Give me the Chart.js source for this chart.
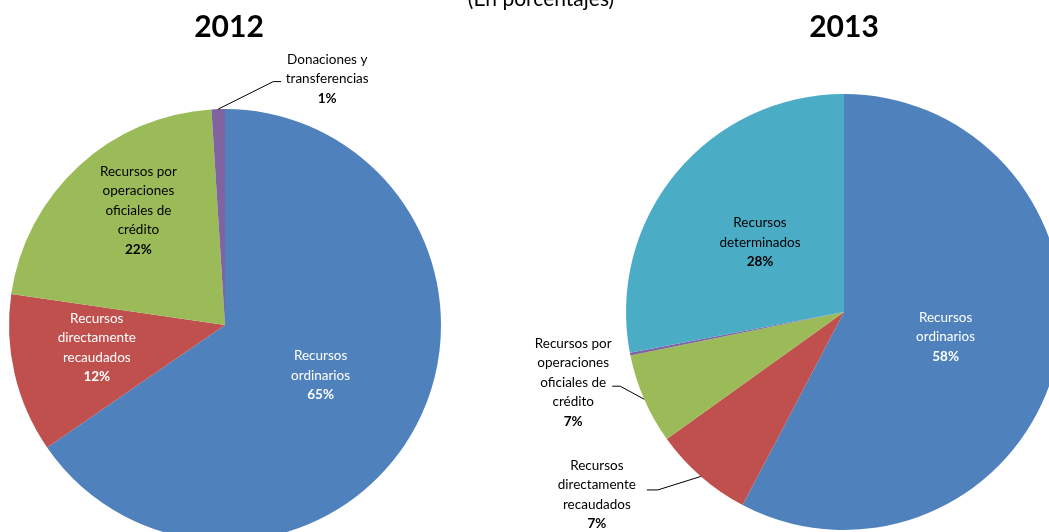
<!DOCTYPE html>
<html>
<head>
<meta charset="utf-8">
<script src="https://cdn.jsdelivr.net/npm/chart.js@4.4.1/dist/chart.umd.min.js"></script>
<style>
  html, body { margin: 0; padding: 0; background: #fff; overflow: hidden; }
  #wrap { position: relative; width: 1049px; height: 532px; }
  canvas { position: absolute; left: 0; top: 0; }
</style>
</head>
<body>
<div id="wrap">
  <canvas id="pie2012" width="1049" height="532"></canvas>
  <canvas id="pie2013" width="1049" height="532"></canvas>
</div>
<script>
// datos 2012
var categories2012 = ['Recursos ordinarios', 'Recursos directamente recaudados', 'Recursos por operaciones oficiales de crédito', 'Donaciones y transferencias']
var values2012 = [65.4, 11.9, 21.7, 1.0]
var lines2012 = [['Recursos', 'ordinarios'], ['Recursos', 'directamente', 'recaudados'], ['Recursos por', 'operaciones', 'oficiales de', 'crédito'], ['Donaciones y', 'transferencias']]

// datos 2013
var categories2013 = ['Recursos ordinarios', 'Recursos directamente recaudados', 'Recursos por operaciones oficiales de crédito', 'Donaciones y transferencias', 'Recursos determinados']
var values2013 = [57.7, 7.4, 6.7, 0.2, 28]
var lines2013 = [['Recursos', 'ordinarios'], ['Recursos', 'directamente', 'recaudados'], ['Recursos por', 'operaciones', 'oficiales de', 'crédito'], null, ['Recursos', 'determinados']]

var colors = ['#4F81BD', '#C0504D', '#9BBB59', '#8064A2', '#4BACC6']

// donde va cada etiqueta (fraccion del radio + ajuste)
var place2012 = [
  {f: 0.5, dx: 0, dy: 0, color: '#fff'},
  {f: 0.6, dx: -2, dy: -7, color: '#fff'},
  {f: 0.66, dx: 10, dy: -10, color: '#000'},
  {f: 1, dx: 109, dy: -30, color: '#000', leader: [[-54, 2.5], [-46, 2.5]]}
]
var place2013 = [
  {f: 0.48, dx: 0, dy: 0, color: '#fff'},
  {f: 1, dx: -104, dy: 18, color: '#000', leader: [[61, -4.5], [50, -4.5]]},
  {f: 1, dx: -71, dy: -17, color: '#000', leader: [[47, 4], [39, 4]]},
  null,
  {f: 0.5, dx: 0, dy: 0, color: '#000'}
]

var LH = 19.5

function makeLabels(cfg) {
  return {
    id: 'pieLabels',
    afterDatasetsDraw: function(chart) {
      var ctx = chart.ctx
      var meta = chart.getDatasetMeta(0)
      var values = chart.data.datasets[0].data
      ctx.save()
      meta.data.forEach(function(arc, i) {
        var p = cfg.place[i]
        if (!p) return
        var a = arc.getProps(['x', 'y', 'startAngle', 'endAngle', 'outerRadius'], true)
        var mid = (a.startAngle + a.endAngle) / 2
        var ex = a.x + Math.cos(mid) * a.outerRadius * p.f
        var ey = a.y + Math.sin(mid) * a.outerRadius * p.f
        var tx = ex + p.dx, ty = ey + p.dy
        if (p.leader) {
          ctx.beginPath()
          ctx.moveTo(ex, ey)
          p.leader.forEach(function(pt) { ctx.lineTo(tx + pt[0], ty + pt[1]) })
          ctx.strokeStyle = '#000'
          ctx.lineWidth = 1
          ctx.stroke()
        }
        var lines = cfg.lines[i]
        var n = lines.length + 1
        var y0 = ty - (n - 1) * LH / 2
        ctx.fillStyle = p.color
        ctx.textAlign = 'center'
        ctx.textBaseline = 'middle'
        ctx.font = '13.5px Lato'
        lines.forEach(function(t, k) { ctx.fillText(t, tx, y0 + k * LH) })
        ctx.font = 'bold 13.5px Lato'
        ctx.fillText(Math.round(values[i]) + '%', tx, y0 + lines.length * LH)
      })
      var c = meta.data[0]
      ctx.fillStyle = '#000'
      ctx.textAlign = 'center'
      ctx.textBaseline = 'alphabetic'
      ctx.font = 'bold 30px Lato'
      ctx.fillText(cfg.title, c.x + cfg.titleDx, 37)
      if (cfg.subtitle) {
        ctx.font = '21px Lato'
        ctx.fillText(cfg.subtitle, 541, 6)
      }
      ctx.restore()
    }
  }
}

function makePie(id, cats, vals, radius, padding, cfg) {
  return new Chart(document.getElementById(id), {
    type: 'pie',
    data: {
      labels: cats,
      datasets: [{
        data: vals,
        backgroundColor: colors.slice(0, vals.length),
        borderWidth: 0,
        radius: radius,
        clip: false
      }]
    },
    options: {
      responsive: false,
      animation: false,
      layout: { padding: padding },
      plugins: {
        legend: { display: false },
        tooltip: { enabled: false }
      }
    },
    plugins: [makeLabels(cfg)]
  })
}

makePie('pie2012', categories2012, values2012, 216,
  {left: 9, right: 608, top: 118, bottom: 0},
  {place: place2012, lines: lines2012, title: '2012', titleDx: 4, subtitle: '(En porcentajes)'})

makePie('pie2013', categories2013, values2013, 218,
  {left: 640, right: 1, top: 94, bottom: 2},
  {place: place2013, lines: lines2013, title: '2013', titleDx: 0})
</script>
</body>
</html>
